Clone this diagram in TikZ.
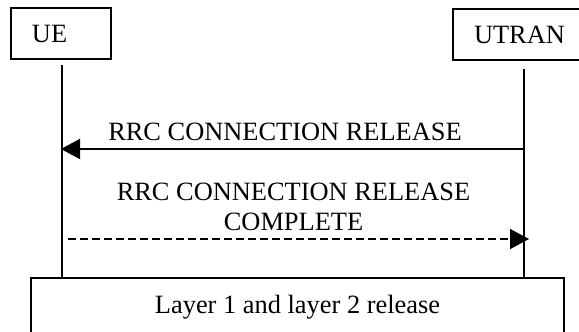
\documentclass[tikz,border=0pt]{standalone}
\usepackage{fontspec}
\setmainfont{Liberation Serif}
\usetikzlibrary{arrows.meta}

\tikzset{
	entity/.style={draw, line width=1pt, inner xsep=10.5pt, inner ysep=0pt, align=left, minimum height=25.5pt},
	msglabel/.style={inner sep=0pt, anchor=base, align=center},
	lifeline/.style={line width=1pt},
	msgarrow/.style={line width=1pt, -{Triangle[length=9.5pt, width=10pt]}}
}

\begin{document}
\begin{tikzpicture}[x=0.5pt, y=-0.5pt, font=\fontsize{13.2}{15}\selectfont]
	\clip (0, 0) rectangle (579, 332);
	\node[entity, text width=29pt] (ue) at (61, 33.5) {UE};
	\node[entity, text width=51pt, anchor=north west] (utran) at (452, 8) {UTRAN};
	\node[draw, line width=1pt, minimum width=266.5pt, minimum height=29pt, inner sep=0pt] (release) at (297.5, 307) {Layer 1 and layer 2 release};
	\coordinate (ueTop) at (62, 65);
	\coordinate (ueBot) at (62, 278);
	\coordinate (utranTop) at (524, 69);
	\coordinate (utranBot) at (524, 278);
	\draw[lifeline] (ueTop) -- (ueBot);
	\draw[lifeline] (utranTop) -- (utranBot);
	\coordinate (relFrom) at (524, 149);
	\coordinate (relTo) at (61, 149);
	\draw[msgarrow] (relFrom) -- (relTo);
	\node[msglabel] (relText) at (285, 140) {RRC CONNECTION RELEASE};
	\coordinate (cmpFrom) at (68, 239);
	\coordinate (cmpTo) at (529, 239);
	\draw[msgarrow, line width=0.8pt, dash pattern=on 4pt off 2pt] (cmpFrom) -- (cmpTo);
	\node[msglabel] (cmpText) at (293.5, 230) {RRC CONNECTION RELEASE\\COMPLETE};
\end{tikzpicture}
\end{document}
